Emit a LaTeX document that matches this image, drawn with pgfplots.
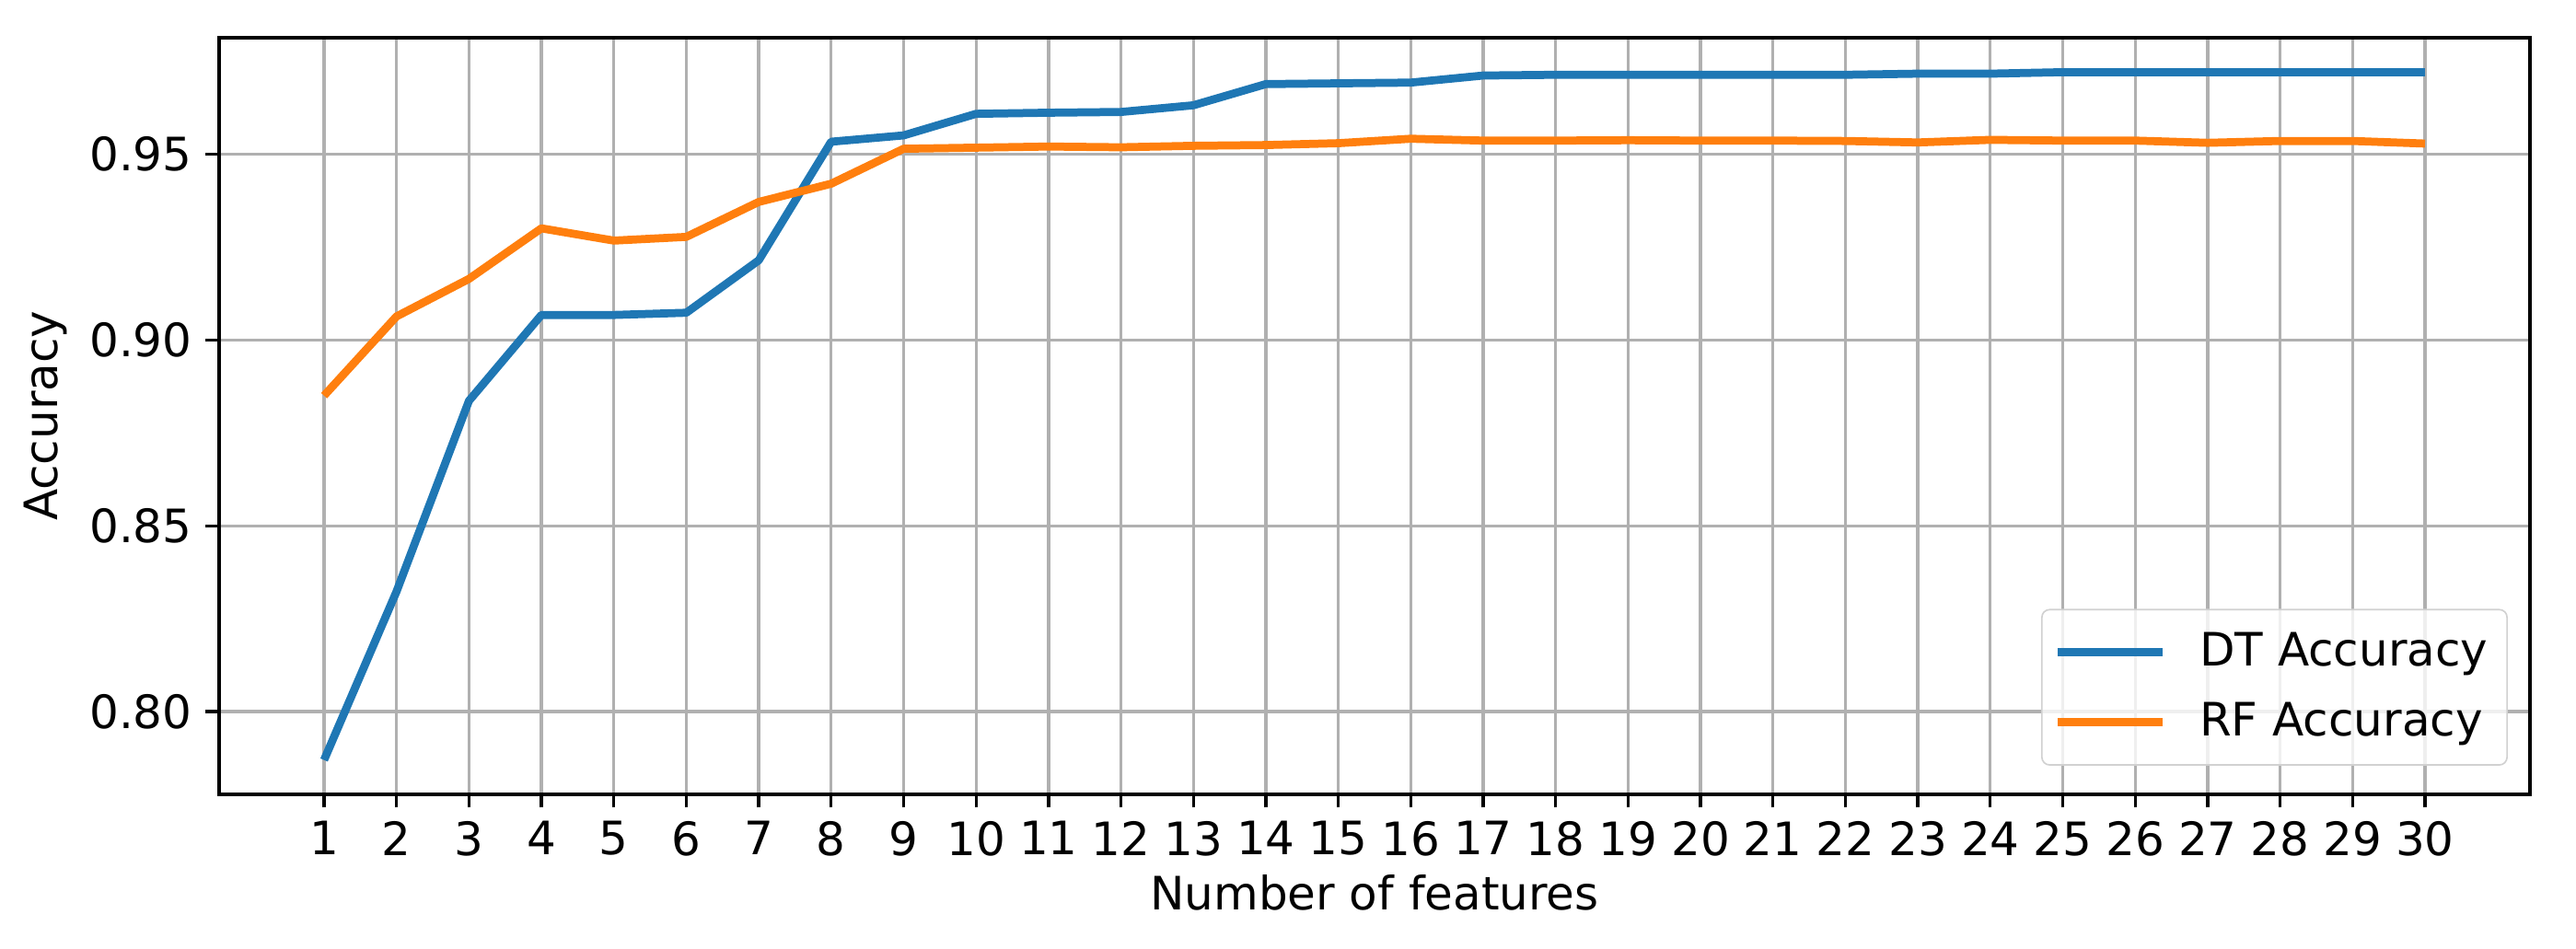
\documentclass[border=0pt]{standalone}
\usepackage{fontspec}
\setmainfont{DejaVu Sans}
\usepackage{pgfplots}
\pgfplotsset{compat=1.18}
\definecolor{tabblue}{HTML}{1F77B4}
\definecolor{taborange}{HTML}{FF7F0E}
\definecolor{gridgray}{HTML}{B0B0B0}
\begin{document}
\begin{tikzpicture}
  \path[use as bounding box] (-57.1pt,-40.3pt) rectangle (614.5pt,207.1pt);
  \begin{axis}[
    at={(0,0)}, anchor=south west,
    scale only axis,
    width=602.5pt, height=197.3pt,
    xmin=-0.45, xmax=31.45,
    ymin=0.7778, ymax=0.9813,
    xtick={1,...,30},
    ytick={0.80,0.85,0.90,0.95},
    yticklabel style={/pgf/number format/.cd, fixed, fixed zerofill, precision=2},
    /pgf/number format/assume math mode=true,
    font=\fontsize{12}{14}\selectfont,
    tick align=outside,
    xtick pos=bottom, ytick pos=left,
    major tick length=3.5pt,
    every tick/.style={black, line width=0.8pt},
    axis line style={line width=0.8pt},
    grid=major,
    grid style={gridgray, line width=0.8pt},
    xlabel={Number of features},
    ylabel={Accuracy},
    xlabel style={at={(axis description cs:0.5,-0.13)}, anchor=center},
    ylabel style={at={(axis description cs:-0.0749,0.5)}, anchor=center, rotate=0},
    legend style={at={(0.9904,0.0377)}, anchor=south east,
      draw=black!18, rounded corners=2pt, fill=white, fill opacity=0.8, text opacity=1,
      font=\fontsize{12}{14}\selectfont, inner xsep=3pt, inner ysep=4pt,
      row sep=4pt},
    legend cell align=left,
    legend image code/.code={\draw[#1, line width=2.1pt] (0pt,0pt) -- (27.5pt,0pt);
      \path (34pt,0pt);},
  ]
    \addplot[tabblue, line width=2.1pt, line join=round] coordinates {
      (1,0.787) (2,0.8323) (3,0.8836) (4,0.9067) (5,0.9067) (6,0.9073)
      (7,0.9214) (8,0.9533) (9,0.955) (10,0.9608) (11,0.9611) (12,0.9613)
      (13,0.9631) (14,0.9688) (15,0.969) (16,0.9692) (17,0.9711) (18,0.9713)
      (19,0.9713) (20,0.9713) (21,0.9713) (22,0.9713) (23,0.9716) (24,0.9716)
      (25,0.972) (26,0.972) (27,0.972) (28,0.972) (29,0.972) (30,0.972)};
    \addplot[taborange, line width=2.1pt, line join=round] coordinates {
      (1,0.885) (2,0.9063) (3,0.9164) (4,0.930) (5,0.9267) (6,0.9277)
      (7,0.9371) (8,0.942) (9,0.9514) (10,0.9517) (11,0.952) (12,0.9518)
      (13,0.9522) (14,0.9524) (15,0.9529) (16,0.9541) (17,0.9536) (18,0.9536)
      (19,0.9537) (20,0.9536) (21,0.9536) (22,0.9535) (23,0.9531) (24,0.9538)
      (25,0.9536) (26,0.9536) (27,0.9530) (28,0.9535) (29,0.9535) (30,0.9528)};
    \legend{DT Accuracy, RF Accuracy}
  \end{axis}
\end{tikzpicture}
\end{document}
